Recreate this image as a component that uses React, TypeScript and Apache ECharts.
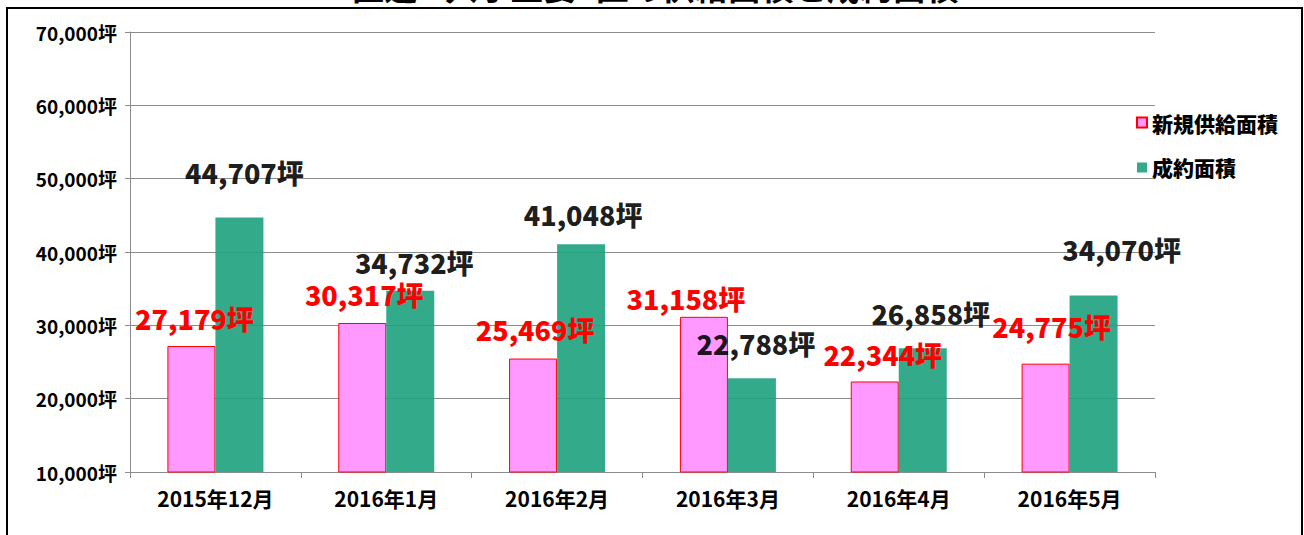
import React, { useEffect, useRef } from "react";
import * as echarts from "echarts";

const categories = ["2015年12月", "2016年1月", "2016年2月", "2016年3月", "2016年4月", "2016年5月"];
const supplyValues = [27179, 30317, 25469, 31158, 22344, 24775];
const contractValues = [44707, 34732, 41048, 22788, 26858, 34070];
const seriesNames = ["新規供給面積", "成約面積"];
const titleText = "直近6ヶ月 主要5区の供給面積と成約面積";

// label offsets (manual placement as in the original)
const supplyLabelOffsets = [[3, -14], [2, -15], [2, -16], [-18, -5], [8, -13], [6, -24]];
const contractLabelOffsets = [[5, -31], [4, -15], [2, -16], [4, -21], [8, -21], [28, -33]];

const FONT = "'Noto Sans CJK JP', 'Noto Sans', sans-serif";
const fmt = (v: number) => v.toLocaleString("en-US") + "坪";

export default function App() {
  const ref = useRef<HTMLDivElement>(null);
  useEffect(() => {
    document.body.style.margin = "0";
    const chart = echarts.init(ref.current!, null, { renderer: "svg" });
    const labelStyle = (color: string) => ({
      show: true,
      position: "top" as const,
      distance: 0,
      color,
      fontSize: 27,
      fontWeight: 900,
      fontFamily: FONT,
      formatter: (p: any) => fmt(p.value),
    });
    chart.setOption({
      animation: false,
      textStyle: { fontFamily: FONT },
      grid: { left: 130, right: 149, top: 32, bottom: 63 },
      legend: {
        orient: "vertical",
        left: 1131,
        top: 107,
        itemWidth: 10,
        itemHeight: 10,
        itemGap: 24,
        icon: "rect",
        data: seriesNames,
        textStyle: { fontSize: 21, fontWeight: 900, color: "#000", fontFamily: FONT },
      },
      xAxis: {
        type: "category",
        data: categories,
        axisLine: { lineStyle: { color: "#8c8c8c", width: 1 } },
        axisTick: { show: true, length: 6, lineStyle: { color: "#8c8c8c" } },
        axisLabel: { color: "#000", fontSize: 21, fontWeight: "bold", margin: 15, fontFamily: FONT },
      },
      yAxis: {
        type: "value",
        min: 10000,
        max: 70000,
        interval: 10000,
        axisLine: { show: true, lineStyle: { color: "#8c8c8c", width: 1 } },
        axisTick: { show: true, length: 5, lineStyle: { color: "#8c8c8c" } },
        splitLine: { lineStyle: { color: "#8c8c8c", width: 1 } },
        axisLabel: {
          color: "#000",
          fontSize: 19,
          fontWeight: "bold",
          margin: 13,
          fontFamily: FONT,
          formatter: (v: number) => fmt(v),
        },
      },
      series: [
        {
          name: seriesNames[0],
          type: "bar",
          barWidth: 48,
          barGap: "0%",
          itemStyle: { color: "#FF99FF", borderColor: "#FF0000", borderWidth: 1 },
          data: supplyValues.map((v, i) => ({
            value: v,
            label: { offset: supplyLabelOffsets[i] },
          })),
          label: labelStyle("#FF0000"),
        },
        {
          name: seriesNames[1],
          type: "bar",
          barWidth: 48,
          barGap: "0%",
          itemStyle: { color: "rgb(29,161,125)", opacity: 0.9 },
          data: contractValues.map((v, i) => ({
            value: v,
            label: { offset: contractLabelOffsets[i] },
          })),
          label: labelStyle("#000000"),
        },
      ],
      graphic: [
        {
          type: "rect",
          shape: { x: 7, y: 8, width: 1295, height: 600 },
          style: { fill: "none", stroke: "#000", lineWidth: 2 },
          silent: true,
        },
        {
          type: "text",
          x: 655,
          y: 2,
          style: {
            text: titleText,
            fontSize: 33,
            fontWeight: "bold",
            fontFamily: FONT,
            fill: "#000",
            align: "center",
            verticalAlign: "bottom",
          },
          silent: true,
        },
      ],
    });
    return () => chart.dispose();
  }, []);
  return <div ref={ref} style={{ width: 1304, height: 535 }} />;
}
